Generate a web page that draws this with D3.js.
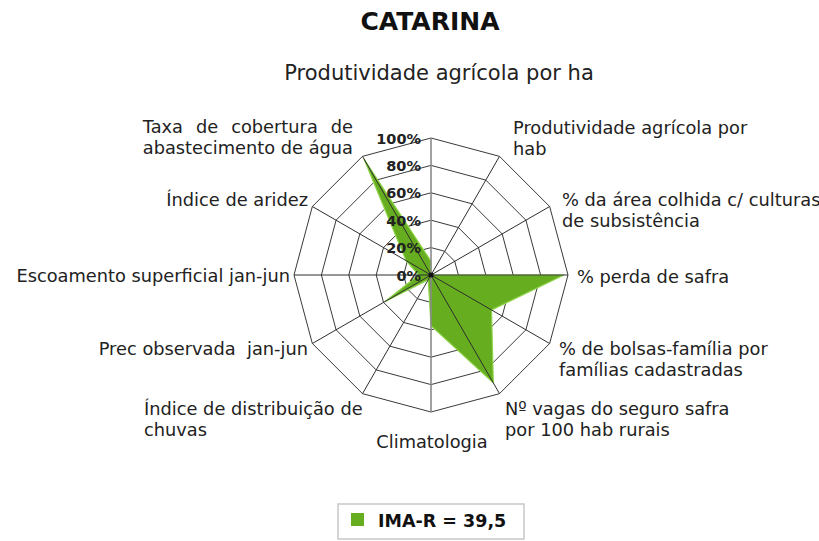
<!DOCTYPE html>
<html>
<head>
<meta charset="utf-8">
<script src="https://cdn.jsdelivr.net/npm/d3@7"></script>
<style>
  html, body { margin: 0; padding: 0; background: #fff; }
  svg { display: block; font-family: "DejaVu Sans", Verdana, sans-serif; }
  .lbl { white-space: pre; }
</style>
</head>
<body>
<svg id="chart" width="819" height="541"></svg>
<script>
// Indicators, clockwise from the top
const categories = [
  "Produtividade agrícola por ha",
  "Produtividade agrícola por hab",
  "% da área colhida c/ culturas de subsistência",
  "% perda de safra",
  "% de bolsas-família por famílias cadastradas",
  "Nº vagas do seguro safra por 100 hab rurais",
  "Climatologia",
  "Índice de distribuição de chuvas",
  "Prec observada  jan-jun",
  "Escoamento superficial jan-jun",
  "Índice de aridez",
  "Taxa de cobertura de abastecimento de água"
];
// Normalised scores (fraction of 100%)
const seriesValues = [0.10, 0.0, 0.0, 0.97, 0.51, 0.91, 0.37, 0.04, 0.39, 0.09, 0.21, 0.98];
const seriesName = "IMA-R = 39,5";
const tickValues = [0, 0.2, 0.4, 0.6, 0.8, 1.0];
const tickLabels = ["0%", "20%", "40%", "60%", "80%", "100%"];

// Wrapped label lines for each indicator
const labelLines = [
  ["Produtividade agrícola por ha"],
  ["Produtividade agrícola por", "hab"],
  ["% da área colhida c/ culturas", "de subsistência"],
  ["% perda de safra"],
  ["% de bolsas-família por", "famílias cadastradas"],
  ["Nº vagas do seguro safra", "por 100 hab rurais"],
  ["Climatologia"],
  ["Índice de distribuição de", "chuvas"],
  ["Prec observada  jan-jun"],
  ["Escoamento superficial jan-jun"],
  ["Índice de aridez"],
  ["Taxa de cobertura de", "abastecimento de água"]
];

const svg = d3.select("#chart");
const cx = 431, cy = 275, R = 137;
const green = "#66ad1f";

const n = categories.length;
const angle = d3.scalePoint().domain(d3.range(n)).range([0, 2 * Math.PI * (n - 1) / n]);
const r = d3.scaleLinear().domain([0, 1]).range([0, R]);

const pt = (i, v) => {
  const a = angle(i);
  return [cx + r(v) * Math.sin(a), cy - r(v) * Math.cos(a)];
};

// Title and subtitle
svg.append("text").attr("x", 430).attr("y", 30).attr("text-anchor", "middle")
  .attr("font-size", 25).attr("font-weight", "bold").attr("fill", "#111").text("CATARINA");
svg.append("text").attr("x", 439).attr("y", 80).attr("text-anchor", "middle")
  .attr("font-size", 21).attr("fill", "#222").text(categories[0]);

const g = svg.append("g");

// Grid rings
tickValues.slice(1).forEach(t => {
  g.append("polygon")
    .attr("points", d3.range(n).map(i => pt(i, t).join(",")).join(" "))
    .attr("fill", "none").attr("stroke", "#3a3a3a").attr("stroke-width", 1);
});

// Data polygon
const lineGen = d3.lineRadial()
  .angle((d, i) => angle(i))
  .radius(d => r(d))
  .curve(d3.curveLinearClosed);

g.append("path")
  .attr("transform", `translate(${cx},${cy})`)
  .attr("d", lineGen(seriesValues))
  .attr("fill", green)
  .attr("stroke", "#8ed34a").attr("stroke-width", 1.2).attr("stroke-linejoin", "miter");

// Spokes
d3.range(n).forEach(i => {
  const [x, y] = pt(i, 1);
  const vertical = (i === 0 || i === n / 2);
  g.append("line").attr("x1", cx).attr("y1", cy).attr("x2", x).attr("y2", y)
    .attr("stroke", vertical ? "#8a8a8a" : "#2e2e2e")
    .attr("stroke-width", vertical ? 1.6 : 1);
});

g.append("circle").attr("cx", cx).attr("cy", cy).attr("r", 2.5).attr("fill", "#111");

// Value axis tick labels
tickValues.forEach((t, k) => {
  g.append("text")
    .attr("x", cx - 10).attr("y", cy - r(t) + 5.5)
    .attr("text-anchor", "end")
    .attr("font-size", 14.5).attr("font-weight", "bold").attr("fill", "#222")
    .text(tickLabels[k]);
});

// Category labels around the chart (baseline of first line)
const labelPos = [
  null,
  { x: 513, y: 134, anchor: "start" },
  { x: 562, y: 206, anchor: "start" },
  { x: 577, y: 283, anchor: "start" },
  { x: 559, y: 355, anchor: "start" },
  { x: 505, y: 415, anchor: "start" },
  { x: 432, y: 448, anchor: "middle" },
  { x: 144, y: 415, anchor: "start" },
  { x: 308, y: 355, anchor: "end" },
  { x: 290, y: 282, anchor: "end" },
  { x: 308, y: 206, anchor: "end" },
  { x: 353, y: 133, anchor: "end", justify: true }
];
labelLines.forEach((lines, i) => {
  const p = labelPos[i];
  if (!p) return;
  const t = svg.append("text").attr("class", "lbl")
    .attr("font-size", 17.8).attr("fill", "#222")
    .attr("text-anchor", p.anchor);
  const spans = lines.map((s, k) =>
    t.append("tspan").attr("x", p.x).attr("y", p.y + k * 20.5).text(s));
  if (p.justify && spans.length > 1) {
    // spread the first line's words to the width of the second
    const w0 = spans[0].node().getComputedTextLength();
    const w1 = spans[1].node().getComputedTextLength();
    const gaps = lines[0].split(" ").length - 1;
    if (w1 > w0 && gaps > 0) spans[0].attr("word-spacing", (w1 - w0) / gaps);
  }
});

// Legend
const leg = svg.append("g");
leg.append("rect").attr("x", 338).attr("y", 504).attr("width", 186).attr("height", 35)
  .attr("fill", "#fff").attr("stroke", "#c8c8c8").attr("stroke-width", 1.5);
leg.append("rect").attr("x", 351).attr("y", 513).attr("width", 13).attr("height", 13).attr("fill", green);
leg.append("text").attr("x", 378).attr("y", 527)
  .attr("font-size", 17.5).attr("font-weight", "bold").attr("fill", "#111").text(seriesName);
</script>
</body>
</html>
